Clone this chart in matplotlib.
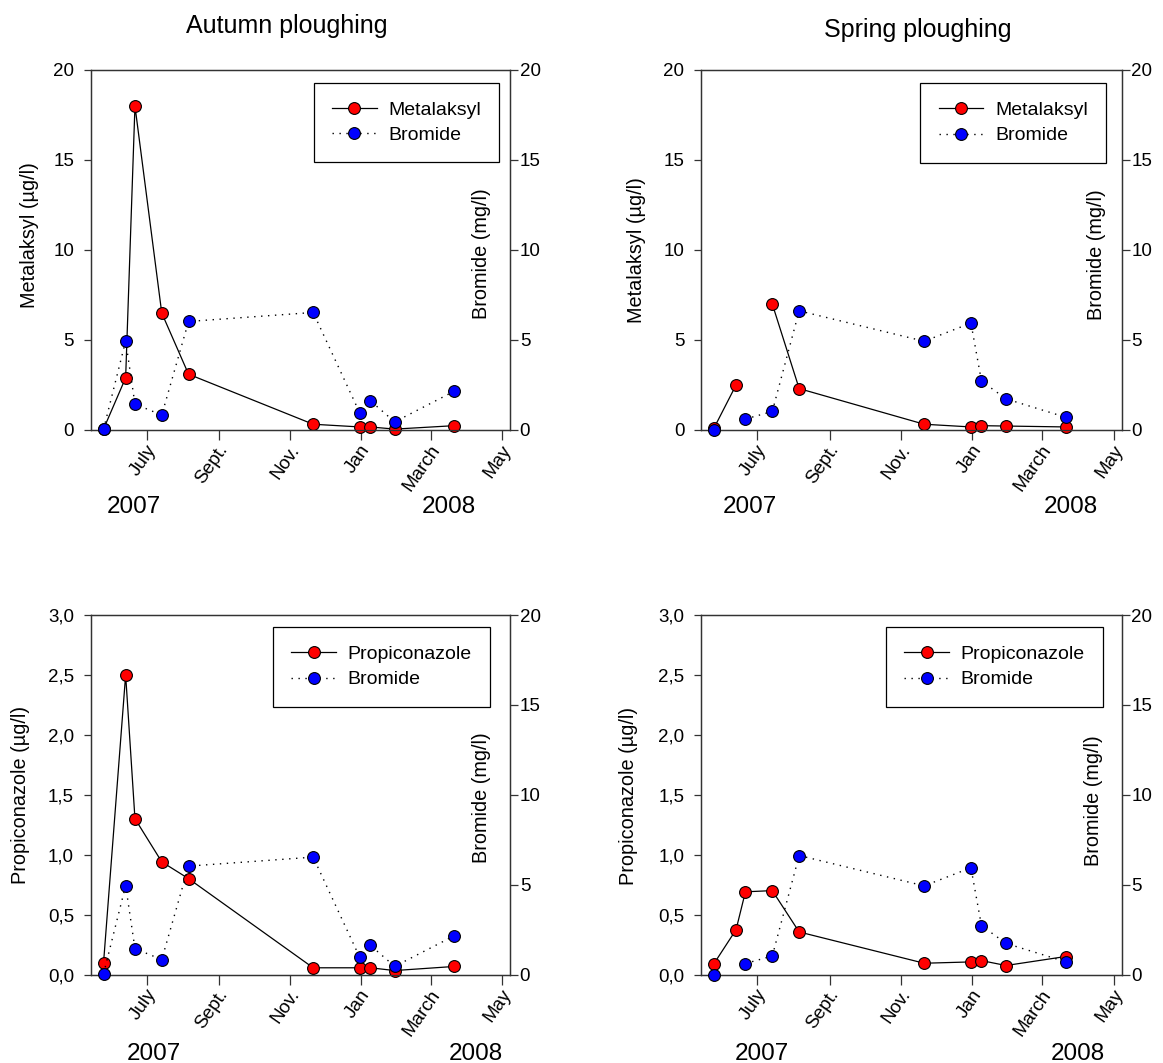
import datetime as dt

import matplotlib
matplotlib.use("Agg")
import matplotlib.pyplot as plt
import matplotlib.dates as mdates
import matplotlib.transforms as mtransforms
import numpy as np
from matplotlib.lines import Line2D
from matplotlib.ticker import FixedLocator, FixedFormatter

plt.rcParams['font.family'] = ['Liberation Sans', 'DejaVu Sans']

# ---------------------------------------------------------------- data
sample_dates = ["2007-05-25", "2007-06-13", "2007-06-21", "2007-07-14",
                "2007-08-06", "2007-11-21", "2007-12-31", "2008-01-09",
                "2008-01-30", "2008-03-21"]

month_tick_dates = ["2007-07-01", "2007-09-01", "2007-11-01",
                    "2008-01-01", "2008-03-01", "2008-05-01"]
month_tick_labels = ["July", "Sept.", "Nov.", "Jan", "March", "May"]

# Metalaksyl (µg/l)
autumn_metalaksyl = [0.05, 2.9, 18.0, 6.5, 3.1, 0.32, 0.17, 0.17, 0.05, 0.24]
spring_metalaksyl = [0.09, 2.5, np.nan, 7.0, 2.3, 0.32, 0.17, 0.24, 0.22, 0.17]

# Propiconazole (µg/l)
autumn_propiconazole = [0.094, 2.50, 1.30, 0.94, 0.80, 0.056, 0.056, 0.056, 0.033, 0.067]
spring_propiconazole = [0.089, 0.374, 0.69, 0.70, 0.355, 0.094, 0.105, 0.116, 0.075, 0.15]

# Bromide (mg/l)
autumn_bromide = [0.03, 4.95, 1.44, 0.83, 6.03, 6.53, 0.95, 1.63, 0.45, 2.15]
spring_bromide = [0.0, np.nan, 0.61, 1.03, 6.62, 4.93, 5.94, 2.72, 1.73, 0.71]

metalaksyl_ticks = [0, 5, 10, 15, 20]
metalaksyl_tick_labels = ["0", "5", "10", "15", "20"]
propiconazole_ticks = [0.0, 0.5, 1.0, 1.5, 2.0, 2.5, 3.0]
propiconazole_tick_labels = ["0,0", "0,5", "1,0", "1,5", "2,0", "2,5", "3,0"]
bromide_ticks = [0, 5, 10, 15, 20]
bromide_tick_labels = ["0", "5", "10", "15", "20"]

titles = ["Autumn ploughing", "Spring ploughing"]
years = ["2007", "2008"]

# ---------------------------------------------------------------- layout
W, H = 1163, 1063
fig = plt.figure(figsize=(W / 100, H / 100), dpi=100)
fig.patch.set_facecolor("white")

SPINE = "#333333"
TICK_SIZE = 13.5
dates = [dt.datetime.strptime(d, "%Y-%m-%d") for d in sample_dates]
tick_pos = mdates.date2num([dt.datetime.strptime(d, "%Y-%m-%d") for d in month_tick_dates])
x_range = (dt.datetime(2007, 5, 14), dt.datetime(2008, 5, 8))
month_shift = mtransforms.ScaledTranslation(4.3 / 72, 0, fig.dpi_scale_trans)


def px_rect(left, top, right, bottom):
    return [left / W, 1 - bottom / H, (right - left) / W, (bottom - top) / H]


def panel(rect, chem, chem_name, chem_ylabel, chem_lim, chem_ticks, chem_labels,
          bromide, left_lab, left_family, right_lab, legend_corner, year_xy):
    ax = fig.add_axes(px_rect(*rect))
    ax2 = ax.twinx()

    ax.plot(dates, chem, linestyle="-", color="black", lw=0.9,
            marker="o", ms=8.5, mfc="#ff0000", mec="black", mew=0.8,
            clip_on=False, zorder=3)
    ax2.plot(dates, bromide, linestyle=(0, (1, 4)), color="black", lw=1.0,
             marker="o", ms=8.5, mfc="#0000ff", mec="black", mew=0.8,
             clip_on=False, zorder=3)

    ax.set_xlim(*x_range)
    ax.set_ylim(*chem_lim)
    ax2.set_ylim(0, 20)

    ax.xaxis.set_major_locator(FixedLocator(tick_pos))
    ax.xaxis.set_major_formatter(FixedFormatter(month_tick_labels))
    ax.yaxis.set_major_locator(FixedLocator(chem_ticks))
    ax.yaxis.set_major_formatter(FixedFormatter(chem_labels))
    ax2.yaxis.set_major_locator(FixedLocator(bromide_ticks))
    ax2.yaxis.set_major_formatter(FixedFormatter(bromide_tick_labels))

    ax.tick_params(axis="x", direction="out", length=7, width=0.9,
                   color=SPINE, pad=5)
    ax.tick_params(axis="y", direction="out", length=5, width=0.9,
                   color=SPINE, labelsize=TICK_SIZE, pad=7)
    ax2.tick_params(axis="y", direction="out", length=6, width=0.9,
                    color=SPINE, labelsize=TICK_SIZE, pad=1)
    for a in (ax, ax2):
        for sp in a.spines.values():
            sp.set_color(SPINE)
            sp.set_linewidth(0.9)

    for lab in ax.get_xticklabels():
        lab.set_rotation(55)
        lab.set_ha("right")
        lab.set_va("center")
        lab.set_rotation_mode("anchor")
        lab.set_fontsize(13.6)
        lab.set_transform(lab.get_transform() + month_shift)

    ax.set_ylabel(chem_ylabel, fontsize=14.3, family=left_family)
    ax.yaxis.label.set_va("center")
    ax.yaxis.set_label_coords(*left_lab)
    ax2.set_ylabel("Bromide (mg/l)", fontsize=14.3)
    ax2.yaxis.label.set_va("center")
    ax2.yaxis.set_label_coords(*right_lab)

    handles = [
        Line2D([], [], linestyle="-", color="black", lw=0.9, marker="o",
               ms=8.5, mfc="#ff0000", mec="black", mew=0.8),
        Line2D([], [], linestyle=(0, (1, 4)), color="black", lw=1.0,
               marker="o", ms=8.5, mfc="#0000ff", mec="black", mew=0.8),
    ]
    leg = ax2.legend(handles, [chem_name, "Bromide"], loc="upper right",
                     bbox_to_anchor=(legend_corner[0] / W, 1 - legend_corner[1] / H),
                     bbox_transform=fig.transFigure, fontsize=14,
                     frameon=True, fancybox=False, framealpha=1,
                     edgecolor="black", handlelength=2.3, handletextpad=0.6,
                     borderpad=0.94, labelspacing=0.39, borderaxespad=0)
    leg.get_frame().set_linewidth(0.9)

    (x07, x08), y_base = year_xy
    fig.text(x07 / W, 1 - y_base / H, years[0], ha="center", va="baseline", fontsize=17.5)
    fig.text(x08 / W, 1 - y_base / H, years[1], ha="center", va="baseline", fontsize=17.5)
    return ax, ax2


COL1 = (90.7, 510.0)
COL2 = (701.0, 1121.7)
ROW1 = (70.0, 430.0)
ROW2 = (615.0, 974.5)
NARROW = ["Liberation Sans Narrow", "Liberation Sans", "DejaVu Sans"]
REGULAR = ["Liberation Sans", "DejaVu Sans"]

panel((COL1[0], ROW1[0], COL1[1], ROW1[1]), autumn_metalaksyl, "Metalaksyl",
      "Metalaksyl (µg/l)", (0, 20), metalaksyl_ticks, metalaksyl_tick_labels,
      autumn_bromide, (-0.147, 0.542), NARROW, (0.9325, 0.489),
      (499.3, 82.7), ((133.8, 449.0), 512.7))

panel((COL2[0], ROW1[0], COL2[1], ROW1[1]), spring_metalaksyl, "Metalaksyl",
      "Metalaksyl (µg/l)", (0, 20), metalaksyl_ticks, metalaksyl_tick_labels,
      spring_bromide, (-0.153, 0.499), REGULAR, (0.9406, 0.486),
      (1106.0, 83.3), ((750.0, 1070.8), 513.0))

panel((COL1[0], ROW2[0], COL1[1], ROW2[1]), autumn_propiconazole, "Propiconazole",
      "Propiconazole (µg/l)", (0, 3.0), propiconazole_ticks, propiconazole_tick_labels,
      autumn_bromide, (-0.167, 0.499), REGULAR, (0.933, 0.491),
      (490.0, 627.3), ((154.2, 475.8), 1060.0))

panel((COL2[0], ROW2[0], COL2[1], ROW2[1]), spring_propiconazole, "Propiconazole",
      "Propiconazole (µg/l)", (0, 3.0), propiconazole_ticks, propiconazole_tick_labels,
      spring_bromide, (-0.172, 0.498), REGULAR, (0.933, 0.485),
      (1103.0, 627.3), ((761.6, 1077.6), 1060.0))

fig.text(286.7 / W, 1 - 33.3 / H, titles[0], ha="center", va="baseline", fontsize=18)
fig.text(917.5 / W, 1 - 37.3 / H, titles[1], ha="center", va="baseline", fontsize=18)

fig.savefig("out.png", dpi=100, facecolor="white")
